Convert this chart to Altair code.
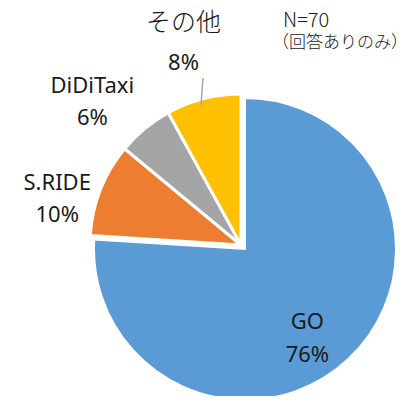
import altair as alt
import pandas as pd

categories = ["GO", "S.RIDE", "DiDiTaxi", "その他"]
values = [76, 10, 6, 8]
pct_labels = ["76%", "10%", "6%", "8%"]
colors = ["#5B9BD5", "#ED7D31", "#A5A5A5", "#FFC000"]
note_lines = ["N=70", "（回答ありのみ）"]

df = pd.DataFrame({
    "name": categories,
    "value": values,
    "pct": pct_labels,
    "order": list(range(len(categories))),
})

CX, CY = 233, 237
R = 151
LATIN = "Noto Sans"
CJK = "Noto Sans CJK JP"
theta_scale = alt.Scale(domain=[0, int(sum(values))])

stacked = alt.Chart(df).transform_window(
    cum="sum(value)", sort=[alt.SortField("order")], frame=[None, 0]
).transform_calculate(
    start="datum.cum - datum.value",
    mid="datum.cum - datum.value / 2",
)

arc_enc = dict(
    theta=alt.Theta("start:Q", scale=theta_scale),
    theta2="cum:Q",
    color=alt.Color("name:N", scale=alt.Scale(domain=categories, range=colors), legend=None),
)

arc_go = stacked.transform_filter(alt.datum.name == "GO").mark_arc(
    outerRadius=R, stroke="white", strokeWidth=2
).encode(x=alt.value(CX + 4), y=alt.value(CY + 4), **arc_enc)
arc_rest = stacked.transform_filter(alt.datum.name != "GO").mark_arc(
    outerRadius=R, stroke="white", strokeWidth=3
).encode(x=alt.value(CX), y=alt.value(CY), **arc_enc)

# label placement: (radius, dx, dy for name, dy for pct, name font, name size, weight)
place = {
    "GO": (113, -11, -5, 28, LATIN, 22, 400),
    "S.RIDE": (188, -9, 7, 39, LATIN, 22, 400),
    "DiDiTaxi": (205, -18, -1, 31, LATIN, 22, 400),
    "その他": (211, -5, -18, 22, CJK, 25, 300),
}

layers = [arc_go, arc_rest]
for cat in categories:
    r, dx, dy1, dy2, fnt, fs, fw = place[cat]
    b = stacked.transform_filter(alt.datum.name == cat).encode(
        theta=alt.Theta("mid:Q", scale=theta_scale),
        x=alt.value(CX),
        y=alt.value(CY),
    )
    layers.append(
        b.mark_text(radius=r, dx=dx, dy=dy1, font=fnt, fontSize=fs, fontWeight=fw,
                    color="#1a1a1a").encode(text="name:N")
    )
    layers.append(
        b.mark_text(radius=r, dx=dx, dy=dy2, font=LATIN, fontSize=22, color="#1a1a1a").encode(
            text="pct:N"
        )
    )

leader = alt.Chart(df).transform_filter(alt.datum.name == "その他").mark_rule(
    color="#A6A6A6", strokeWidth=1.5
).encode(x=alt.value(195), y=alt.value(70), x2=alt.value(193), y2=alt.value(97))

note_df = pd.DataFrame({"line": note_lines, "i": [0, 1]})
note1 = alt.Chart(note_df).transform_filter(alt.datum.i == 0).mark_text(
    font=CJK, fontSize=20, fontWeight=300, align="left", baseline="middle", color="#1a1a1a"
).encode(text="line:N", x=alt.value(275), y=alt.value(13))
note2 = alt.Chart(note_df).transform_filter(alt.datum.i == 1).mark_text(
    font=CJK, fontSize=17, fontWeight=300, align="left", baseline="middle", color="#1a1a1a"
).encode(text="line:N", x=alt.value(264), y=alt.value(35))

chart = alt.layer(*layers, leader, note1, note2).properties(
    width=393, height=388, padding=0, autosize=alt.AutoSizeParams(type="none")
).configure_view(stroke=None)

chart.save("out.html", embed_options={"renderer": "svg", "actions": False})
